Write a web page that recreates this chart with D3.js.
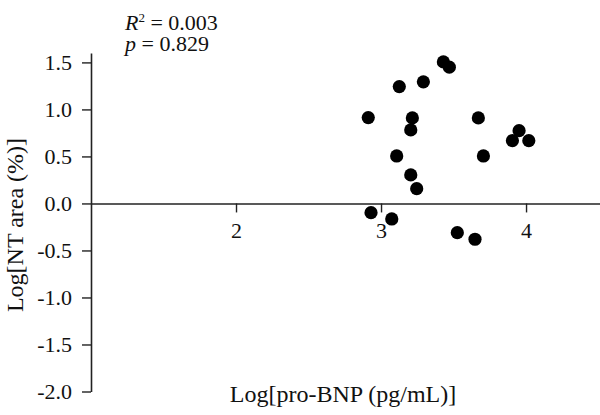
<!DOCTYPE html>
<html>
<head>
<meta charset="utf-8">
<script src="https://cdn.jsdelivr.net/npm/d3@7/dist/d3.min.js"></script>
<style>
  html, body { margin: 0; padding: 0; background: #fff; }
  svg { display: block; }
  text { font-family: "Liberation Serif", "DejaVu Serif", serif; fill: #111; }
</style>
</head>
<body>
<svg id="chart" width="600" height="415"></svg>
<script>
// Data
const logProBNP = [3.430, 3.471, 3.126, 3.292, 2.912, 3.216, 3.205, 3.671, 3.952, 3.906,
                   4.019, 3.108, 3.706, 3.205, 3.246, 2.931, 3.074, 3.526, 3.648];
const logNTArea = [1.505, 1.449, 1.243, 1.293, 0.913, 0.910, 0.782, 0.910, 0.774, 0.668,
                   0.668, 0.505, 0.505, 0.303, 0.157, -0.098, -0.165, -0.311, -0.381];
const xTicks = [2, 3, 4];
const yTicks = [-2.0, -1.5, -1.0, -0.5, 0.0, 0.5, 1.0, 1.5];
const xTitle = "Log[pro-BNP (pg/mL)]";
const yTitle = "Log[NT area (%)]";
const r2Text = "0.003";
const pText = "0.829";

const serif = "'Liberation Serif', 'DejaVu Serif', serif";
const svg = d3.select("#chart");

const x = d3.scaleLinear().domain([1, 4.51]).range([91, 600]);
const y = d3.scaleLinear().domain([-2, 1.6]).range([391.5, 53]);

// X axis at y = 0
const xAxis = svg.append("g")
  .attr("transform", `translate(0,${y(0)})`)
  .call(d3.axisBottom(x).tickValues(xTicks).tickSize(9).tickSizeOuter(0).tickFormat(d3.format("d")))
  .attr("font-family", serif).attr("font-size", 22);
xAxis.select(".domain").attr("stroke", "#222").attr("stroke-width", 1.6);
xAxis.selectAll(".tick line").attr("stroke", "#222").attr("stroke-width", 1.4);
xAxis.selectAll(".tick text")
  .attr("y", 19).attr("dy", "0.71em").attr("fill", "#111");

// Y axis
const yAxis = svg.append("g")
  .attr("transform", `translate(${x(1)},0)`)
  .call(d3.axisLeft(y).tickValues(yTicks).tickSize(9).tickSizeOuter(0)
        .tickFormat(d => d3.format(".1f")(d).replace("\u2212", "-")))
  .attr("font-family", serif).attr("font-size", 22);
yAxis.select(".domain").attr("stroke", "#222").attr("stroke-width", 1.6);
yAxis.selectAll(".tick line").attr("stroke", "#222").attr("stroke-width", 1.4);
yAxis.selectAll(".tick text").attr("x", -19).attr("fill", "#111");

// Points
svg.append("g").selectAll("circle")
  .data(logProBNP.map((v, i) => [v, logNTArea[i]]))
  .join("circle")
  .attr("cx", d => x(d[0]))
  .attr("cy", d => y(d[1]))
  .attr("r", 6.6)
  .attr("fill", "#000");

// Axis titles
svg.append("text")
  .attr("x", 343).attr("y", 401.5)
  .attr("text-anchor", "middle")
  .style("font-size", "24px")
  .text(xTitle);

svg.append("text")
  .attr("transform", "translate(23,225) rotate(-90)")
  .attr("text-anchor", "middle")
  .style("font-size", "24px")
  .text(yTitle);

// Statistics annotation
const stats = svg.append("text").style("font-size", "22px");
stats.append("tspan").attr("x", 125).attr("y", 29.5).style("font-style", "italic").text("R");
stats.append("tspan").attr("dy", -8).style("font-size", "13px").text("2");
stats.append("tspan").attr("dy", 8).text(" = " + r2Text);
stats.append("tspan").attr("x", 125).attr("y", 50.5).style("font-style", "italic").text("p");
stats.append("tspan").text(" = " + pText);
</script>
</body>
</html>
